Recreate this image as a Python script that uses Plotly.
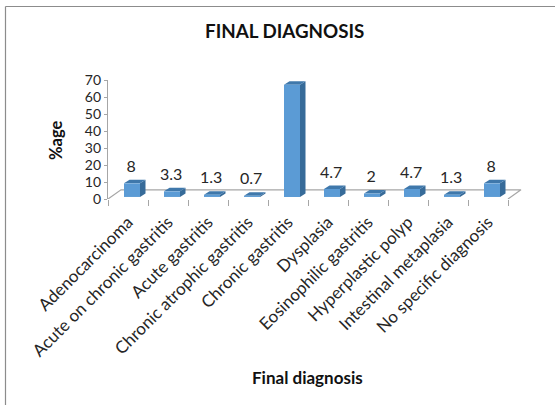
import plotly.graph_objects as go

categories = ["Adenocarcinoma", "Acute on chronic gastritis", "Acute gastritis",
              "Chronic atrophic gastritis", "Chronic gastritis", "Dysplasia",
              "Eosinophilic gastritis", "Hyperplastic polyp", "Intestinal metaplasia",
              "No specific diagnosis"]
values = [8, 3.3, 1.3, 0.7, 66, 4.7, 2, 4.7, 1.3, 8]
value_labels = ["8", "3.3", "1.3", "0.7", "66", "4.7", "2", "4.7", "1.3", "8"]
y_ticks = [0, 10, 20, 30, 40, 50, 60, 70]

W, H = 555, 405
L, R, T, B = 108, 522, 80, 199
UX = 40.0          # px per category
UY = (B - T) / 70  # px per value unit
FONT = "Lato"
TXT = "#262626"
GRID = "#a6a6a6"

depth_x = 5.5 / UX
depth_y = 3.5 / UY
base = 1.2
left_off, right_off = 0.40, 0.80

fig = go.Figure()


def poly(xs, ys, color, width=0):
    fig.add_trace(go.Scatter(x=xs, y=ys, mode="lines", fill="toself", fillcolor=color,
                             line=dict(color=color, width=width), hoverinfo="skip",
                             showlegend=False))


# floor outline
fl_dx = (R - 1 - 508) / UX
fl_dy = 5.4
fig.add_trace(go.Scatter(x=[0, fl_dx, 10 + fl_dx, 10], y=[0, fl_dy, fl_dy, 0], mode="lines",
                         line=dict(color=GRID, width=1.2), hoverinfo="skip", showlegend=False))

for i, v in enumerate(values):
    x0, x1 = i + left_off, i + right_off
    y0, y1 = base, base + v
    poly([x1, x1 + depth_x, x1 + depth_x, x1], [y0, y0 + depth_y, y1 + depth_y, y1], "#376b99")
    poly([x0, x0 + depth_x, x1 + depth_x, x1], [y1, y1 + depth_y, y1 + depth_y, y1], "#3f78ab")
    poly([x0, x1, x1, x0], [y0, y0, y1, y1], "#5b9bd5")

fig.add_trace(go.Scatter(
    x=[i + 0.58 for i in range(len(values))],
    y=[v + 5.5 for v in values],
    mode="text", text=value_labels, textposition="top center",
    textfont=dict(family=FONT, size=16, color=TXT),
    cliponaxis=False, hoverinfo="skip", showlegend=False))

fig.update_xaxes(
    range=[0, (R - L) / UX], showgrid=False, zeroline=False, showline=False,
    tickmode="array", tickvals=[i + 0.5 for i in range(10)], ticktext=categories,
    tickangle=-45, ticks="", ticklen=0, ticklabelstandoff=9,
    tickfont=dict(family=FONT, size=17, color=TXT),
    minor=dict(tickmode="array", tickvals=list(range(11)), ticks="outside", ticklen=6,
               tickcolor=GRID, tickwidth=1.2, showgrid=False),
)
fig.update_yaxes(
    range=[0, 70], showgrid=False, zeroline=False, showline=True, linecolor=GRID, linewidth=1.2,
    tickmode="array", tickvals=y_ticks, ticks="outside", ticklen=3, tickcolor=GRID, tickwidth=1.2,
    tickfont=dict(family=FONT, size=14, color=TXT),
)

common = dict(xref="paper", yref="paper", showarrow=False, xanchor="center", yanchor="middle")
fig.update_layout(
    width=W, height=H, autosize=False, paper_bgcolor="white", plot_bgcolor="white",
    margin=dict(l=L, r=W - R, t=T, b=H - B, autoexpand=False),
    showlegend=False,
    shapes=[
        dict(type="line", xref="paper", yref="paper", x0=-(L - 5.5) / (R - L), x1=-(L - 5.5) / (R - L),
             y0=-(H - B) / (B - T), y1=(B - 6.5) / (B - T), line=dict(color="#8c8c8c", width=1.2)),
        dict(type="line", xref="paper", yref="paper", x0=-(L - 5.5) / (R - L), x1=(W - L) / (R - L),
             y0=(B - 6.5) / (B - T), y1=(B - 6.5) / (B - T), line=dict(color="#8c8c8c", width=1.2)),
    ],
    annotations=[
        dict(text="<b>FINAL DIAGNOSIS</b>", x=(284 - L) / (R - L), y=(B - 31) / (B - T),
             font=dict(family=FONT, size=18.8, color="#111111"), **common),
        dict(text="<b>%age</b>", textangle=-90, x=(56 - L) / (R - L), y=(B - 141) / (B - T),
             font=dict(family=FONT, size=16.5, color="#111111"), **common),
        dict(text="<b>Final diagnosis</b>", x=(307 - L) / (R - L), y=(B - 377) / (B - T),
             font=dict(family=FONT, size=17, color="#111111"), **common),
    ],
)

fig.write_html("out.html", config=dict(displayModeBar=False),
               post_script="document.body.style.margin='0';document.body.style.overflow='hidden';")
